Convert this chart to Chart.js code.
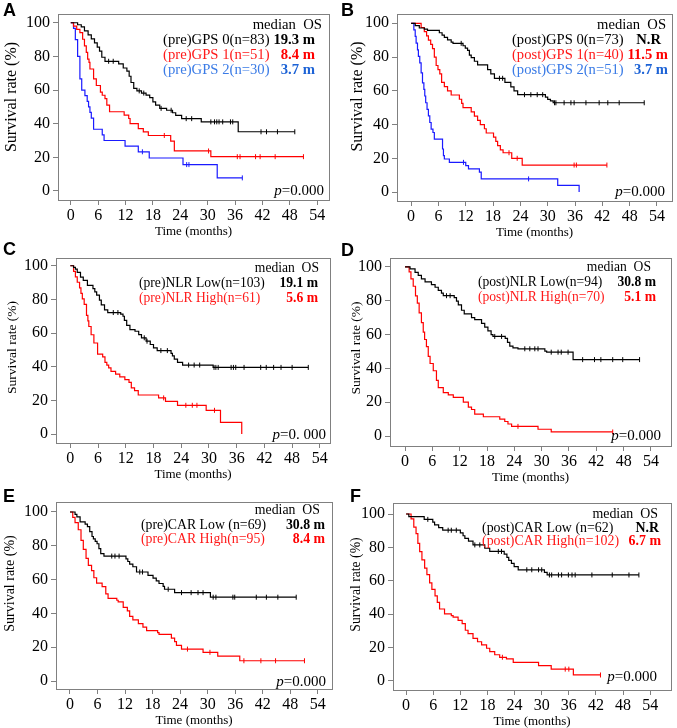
<!DOCTYPE html>
<html>
<head>
<meta charset="utf-8">
<script src="https://cdn.jsdelivr.net/npm/chart.js@4.4.0/dist/chart.umd.min.js"></script>
<style>
  html, body { margin: 0; padding: 0; background: #fff; }
  #fig { position: relative; width: 677px; height: 728px; overflow: hidden; }
  #fig canvas { position: absolute; }
</style>
</head>
<body>
<div id="fig"></div>
<script>
// ===== Axis ticks =====
const xTicks = [0, 6, 12, 18, 24, 30, 36, 42, 48, 54];
const yTicks = [0, 20, 40, 60, 80, 100];

// ===== KM curves: [month, survival %] after each event =====
// A - pre-treatment GPS
const preGps0 = [[0,100],[1.5,98.8],[2.3,97.6],[3.0,95.2],[3.8,92.8],[4.5,90.4],[5.2,88.0],[5.8,85.5],[6.3,83.1],[6.8,79.5],[7.5,77.1],[10.5,75.6],[11.5,73.1],[12.3,71.3],[12.8,68.2],[13.2,64.5],[13.8,61.0],[14.5,59.5],[15.5,58.2],[16.5,57.0],[17.3,55.5],[18.0,53.0],[18.6,51.0],[19.5,49.1],[21.0,48.0],[22.3,46.5],[23.0,44.9],[24.3,43.0],[28.6,41.1],[36.7,35.2],[49.1,35.2]];
const preGps0Cens = [8.3,9.3,15.0,16.0,19.8,22.0,25.3,26.5,30.7,31.5,32.0,32.5,33.3,35.0,35.5,41.7,42.9,45.3,49.1];
const preGps1 = [[0,100],[0.6,98.0],[1.3,96.1],[2.0,94.1],[2.6,90.2],[3.0,86.3],[3.4,82.4],[3.7,78.4],[4.0,76.5],[4.2,72.5],[5.0,66.7],[5.6,62.7],[6.5,58.8],[6.9,56.9],[7.5,54.9],[7.9,51.0],[8.5,47.1],[11.7,45.1],[12.7,43.1],[13.0,40.1],[14.8,37.1],[15.9,35.1],[17.0,33.0],[21.9,29.7],[22.7,23.8],[30.7,20.4],[51.0,20.4]];
const preGps1Cens = [20.5,30.2,36.5,37.1,40.5,41.5,44.8,51.0];
const preGps2 = [[0,100],[0.6,96.7],[1.0,90.0],[1.5,80.0],[2.0,66.7],[2.4,60.0],[3.1,56.7],[3.6,53.3],[3.9,50.0],[4.2,46.7],[4.5,43.3],[5.0,36.7],[6.9,33.3],[7.3,30.0],[11.9,26.7],[14.8,23.3],[17.2,19.6],[24.6,15.7],[32.1,7.8],[37.6,7.8]];
const preGps2Cens = [15.7,25.4,25.9,37.6];

// B - post-treatment GPS
const postGps0 = [[0,100],[0.9,98.6],[1.8,97.2],[2.9,96.5],[3.6,95.8],[6.2,94.4],[6.8,93.0],[7.3,91.6],[8.0,90.2],[8.8,88.8],[9.2,88.1],[11.4,86.7],[11.9,85.3],[12.4,83.9],[12.8,81.1],[13.2,79.6],[13.9,77.5],[14.6,75.4],[16.8,72.6],[17.5,70.0],[18.3,67.4],[20.6,65.0],[21.9,62.3],[22.6,60.0],[23.4,57.7],[29.5,56.3],[30.0,54.9],[30.6,54.0],[31.2,52.9],[51.2,52.9]];
const postGps0Cens = [11.0,19.4,20.1,24.9,26.3,27.7,28.9,31.5,31.8,33.6,35.1,35.8,38.4,41.3,43.2,45.7,51.2];
const postGps1 = [[0,100],[2.2,97.5],[2.9,95.0],[3.4,92.5],[3.8,90.0],[4.3,87.5],[4.7,85.0],[5.1,80.0],[5.5,75.0],[5.9,72.5],[6.3,70.0],[6.7,65.0],[7.3,62.5],[8.0,60.0],[8.8,57.5],[10.6,55.0],[11.1,52.5],[11.4,50.0],[13.2,47.5],[13.9,45.0],[14.6,42.5],[15.2,40.0],[16.1,37.5],[16.5,35.0],[18.1,32.5],[18.6,30.0],[19.0,27.5],[19.6,25.0],[20.2,23.3],[22.1,20.0],[24.4,16.0],[43.0,16.0]];
const postGps1Cens = [21.5,23.3,35.8,36.3,43.0];
const postGps2 = [[0,100],[0.6,96.1],[0.9,92.2],[1.1,88.2],[1.4,84.3],[1.6,80.4],[1.9,76.5],[2.2,70.6],[2.5,64.7],[2.8,60.8],[3.0,56.9],[3.2,52.9],[3.5,49.0],[3.8,45.1],[4.1,41.2],[4.4,37.3],[4.8,35.3],[5.1,31.4],[6.9,25.5],[7.1,21.6],[7.3,19.6],[8.4,17.6],[12.0,15.7],[12.6,13.7],[15.0,11.8],[15.4,7.8],[32.2,3.9],[36.9,0]];
const postGps2Cens = [11.5,25.8];

// C - pre-treatment NLR
const preNlrLow = [[0,100],[0.7,99.0],[1.1,98.0],[1.5,96.1],[2.2,93.2],[2.8,91.3],[3.7,88.3],[4.9,86.4],[5.3,84.5],[5.7,82.5],[6.3,79.6],[6.7,76.7],[7.4,73.8],[8.1,72.2],[10.9,71.2],[11.4,70.0],[11.7,67.5],[12.2,64.6],[12.9,62.1],[14.0,61.1],[14.8,59.1],[15.4,57.2],[16.4,55.2],[17.3,53.2],[18.0,51.2],[18.8,49.6],[21.8,48.0],[22.1,46.5],[22.5,44.5],[23.2,42.6],[24.3,41.0],[30.9,39.6],[51.5,39.6]];
const preNlrLowCens = [9.3,10.3,16.0,16.6,19.6,21.0,25.6,26.8,28.0,31.1,31.5,32.0,34.8,35.3,35.8,37.6,41.2,42.4,44.0,45.6,48.0,51.5];
const preNlrHigh = [[0,100],[0.7,96.7],[1.1,93.4],[1.5,90.2],[2.0,86.9],[2.3,83.6],[2.6,80.3],[3.0,77.0],[3.5,70.5],[3.8,67.2],[4.0,63.9],[4.5,59.0],[5.1,54.1],[5.9,47.5],[7.0,45.9],[7.5,42.6],[7.9,41.0],[8.3,39.3],[8.8,37.3],[9.8,35.6],[10.7,34.0],[11.8,32.3],[12.7,30.7],[13.2,27.5],[13.9,25.8],[14.7,23.2],[19.1,21.5],[20.6,19.4],[23.2,17.1],[29.4,14.1],[32.5,7.0],[37.1,0]];
const preNlrHighCens = [20.2,25.0,26.4,27.4,31.2];

// D - post-treatment NLR
const postNlrLow = [[0,100],[1.1,98.9],[2.2,96.8],[2.9,95.0],[3.6,93.0],[4.4,91.2],[5.8,89.6],[6.6,88.0],[7.3,86.2],[8.0,84.5],[8.4,83.0],[10.8,81.9],[11.3,79.8],[11.7,77.6],[12.4,74.4],[13.0,72.2],[14.6,70.0],[15.3,68.9],[16.8,66.6],[17.5,64.4],[18.2,62.2],[18.9,60.0],[19.3,58.9],[22.0,57.7],[22.5,55.4],[23.0,53.2],[23.7,52.1],[24.8,51.6],[30.7,50.2],[31.1,49.6],[36.9,45.2],[51.5,45.2]];
const postNlrLowCens = [9.1,9.9,19.7,21.2,26.3,27.4,28.5,29.2,32.1,33.6,34.3,35.8,39.0,41.6,43.0,45.6,47.8,51.5];
const postNlrHigh = [[0,100],[0.9,97.1],[1.3,92.9],[1.8,88.6],[2.3,82.9],[2.7,78.6],[3.1,72.9],[3.6,67.1],[4.0,61.4],[4.3,57.1],[4.7,52.9],[5.1,47.1],[5.5,42.9],[6.2,38.6],[6.9,32.9],[7.3,28.6],[8.4,25.7],[9.5,24.3],[10.6,22.9],[12.8,20.0],[13.9,17.1],[14.6,15.7],[15.3,12.9],[17.2,11.4],[20.8,10.0],[21.9,8.6],[22.6,7.1],[23.4,5.7],[29.2,4.0],[32.1,2.4],[45.6,2.4]];
const postNlrHighCens = [24.8,45.6];

// E - pre-treatment CAR
const preCarLow = [[0,100],[1.1,98.6],[1.5,97.1],[2.2,94.2],[3.3,92.8],[3.8,91.3],[4.3,88.4],[4.8,85.5],[5.1,84.1],[5.5,82.6],[5.9,81.2],[6.3,78.3],[6.7,75.4],[7.4,73.9],[12.2,72.3],[12.6,70.7],[13.0,69.2],[13.7,67.6],[14.5,64.5],[17.0,62.5],[18.1,60.9],[18.8,59.3],[19.4,57.7],[20.3,56.0],[20.6,54.3],[22.8,52.3],[30.6,49.6],[49.3,49.6]];
const preCarLowCens = [9.1,9.8,10.7,15.2,15.8,21.4,24.3,26.4,27.9,29.0,31.2,31.8,35.5,35.9,40.6,42.8,45.3,49.3];
const preCarHigh = [[0,100],[0.6,96.8],[1.1,93.7],[1.8,89.5],[2.4,83.2],[2.9,77.9],[3.5,72.6],[4.0,68.4],[4.7,65.3],[5.2,61.1],[5.8,57.9],[7.0,55.8],[7.8,51.6],[8.3,48.9],[10.2,47.8],[10.5,46.8],[11.6,43.6],[12.5,41.5],[13.0,38.3],[13.7,36.2],[14.9,34.0],[15.9,31.9],[16.7,29.8],[19.1,28.7],[19.4,27.6],[22.1,25.4],[22.8,23.3],[23.2,21.1],[24.3,18.9],[29.0,17.0],[32.2,14.8],[37.0,12.0],[51.1,12.0]];
const preCarHighCens = [25.6,30.5,37.9,41.6,44.8,51.1];

// F - post-treatment CAR
const postCarLow = [[0,100],[0.6,98.4],[4.0,96.8],[5.9,95.2],[6.3,93.5],[7.2,91.9],[8.1,90.3],[12.0,88.7],[12.6,87.0],[13.0,85.4],[13.8,83.8],[14.8,81.5],[17.4,79.5],[18.5,77.6],[21.7,76.0],[22.3,74.0],[22.7,72.2],[23.3,70.4],[23.9,68.5],[24.8,66.6],[30.6,65.0],[31.2,63.5],[51.5,63.5]];
const postCarLowCens = [4.8,9.3,10.0,11.1,15.2,16.3,20.4,21.1,26.7,27.8,29.3,30.0,31.7,32.2,33.7,34.4,35.9,36.7,37.4,41.1,45.6,49.3,51.5];
const postCarHigh = [[0,100],[1.1,97.1],[1.7,92.2],[2.2,88.2],[2.6,82.4],[3.0,77.5],[3.5,72.5],[4.1,67.6],[4.6,63.7],[5.2,58.8],[5.7,54.9],[6.4,51.0],[6.9,47.1],[7.4,43.1],[8.5,40.2],[10.0,39.2],[10.4,38.2],[11.5,36.3],[12.4,34.3],[13.1,30.4],[13.7,28.4],[14.8,25.5],[15.8,23.5],[16.7,21.6],[17.8,19.6],[18.5,17.6],[19.6,15.7],[20.7,14.2],[22.2,13.2],[23.7,11.2],[29.3,9.2],[32.1,7.1],[37.0,3.6],[43.0,3.6]];
const postCarHighCens = [21.3,35.2,36.0,43.0];

// ===== Legend texts =====
const labelsA = ['(pre)GPS 0(n=83)', '(pre)GPS 1(n=51)', '(pre)GPS 2(n=30)'];
const mediansA = ['19.3 m', '8.4 m', '3.7 m'];
const labelsB = ['(post)GPS 0(n=73)', '(post)GPS 1(n=40)', '(post)GPS 2(n=51)'];
const mediansB = ['N.R', '11.5 m', '3.7 m'];
const labelsC = ['(pre)NLR Low(n=103)', '(pre)NLR High(n=61)'];
const mediansC = ['19.1 m', '5.6 m'];
const labelsD = ['(post)NLR Low(n=94)', '(post)NLR High(n=70)'];
const mediansD = ['30.8 m', '5.1 m'];
const labelsE = ['(pre)CAR Low (n=69)', '(pre)CAR High(n=95)'];
const mediansE = ['30.8 m', '8.4 m'];
const labelsF = ['(post)CAR Low (n=62)', '(post)CAR High(n=102)'];
const mediansF = ['N.R', '6.7 m'];
const pValues = ['0.000', '0.000', '0. 000', '0.000', '0.000', '0.000'];

// ===== Styles =====
const SERIF = '"Liberation Serif", "Times New Roman", serif';
const BLACK = '#000000';
const RED = '#ff0000';
const BLUE = '#1a1aff';
const TXT_BLACK = ['#000000', '#000000'];
const TXT_RED = ['#ff1a1a', '#ff0000'];
const TXT_BLUE = ['#3a7be6', '#1d63d6'];
const FRAME = '#808080';

Chart.defaults.font.family = SERIF;
Chart.defaults.color = '#000';

function survAt(steps, t) {
  let s = steps[0][1];
  for (const [tt, ss] of steps) {
    if (tt <= t) s = ss; else break;
  }
  return s;
}

// frame + all the free text of a panel
const kmText = {
  id: 'kmText',
  beforeDatasetsDraw(chart, args, o) {
    const { ctx, chartArea: a } = chart;
    ctx.save();
    ctx.strokeStyle = FRAME;
    ctx.lineWidth = 1;
    ctx.strokeRect(Math.round(a.left) + 0.5, Math.round(a.top) + 0.5, Math.round(a.right - a.left), Math.round(a.bottom - a.top));
    ctx.restore();
  },
  afterDraw(chart, args, o) {
    const { ctx, chartArea: a } = chart;
    ctx.save();
    ctx.fillStyle = '#000';
    ctx.textBaseline = 'alphabetic';
    ctx.textAlign = 'left';
    ctx.font = 'bold 18px "Liberation Sans", Arial, sans-serif';
    ctx.fillText(o.letter, o.letterX, o.letterY);

    // axis titles
    ctx.font = '13px ' + SERIF;
    ctx.textAlign = 'center';
    ctx.textBaseline = 'middle';
    ctx.fillText('Time (months)', (a.left + a.right) / 2, a.bottom + 32);
    ctx.save();
    ctx.font = o.yTitleSize + 'px ' + SERIF;
    ctx.translate(o.yTitleX, (a.top + a.bottom) / 2 + o.yTitleDy);
    ctx.rotate(-Math.PI / 2);
    ctx.fillText('Survival rate (%)', 0, 0);
    ctx.restore();

    // legend block
    const fs = o.fs + 'px ' + SERIF;
    const fsBold = 'bold ' + o.fs + 'px ' + SERIF;
    ctx.textBaseline = 'alphabetic';
    ctx.font = fs;
    ctx.textAlign = 'right';
    ctx.fillText('median  OS', a.right - o.medianInset, a.top + o.rows[0]);
    o.labels.forEach((lab, i) => {
      const y = a.top + o.rows[i + 1];
      ctx.font = fs;
      ctx.textAlign = 'left';
      ctx.fillStyle = o.textColors[i][0];
      ctx.fillText(lab, a.right - o.labelInset, y);
      ctx.font = fsBold;
      ctx.textAlign = 'right';
      ctx.fillStyle = o.textColors[i][1];
      ctx.fillText(o.medians[i], a.right - o.valueInset[i], y);
    });

    // p value
    ctx.fillStyle = '#000';
    ctx.textAlign = 'left';
    const rest = '=' + o.p;
    ctx.font = '15px ' + SERIF;
    const wr = ctx.measureText(rest).width;
    ctx.font = 'italic 15px ' + SERIF;
    const wp = ctx.measureText('p').width;
    const xr = a.right - o.pInset;
    const yb = a.bottom - o.pBottom;
    ctx.fillText('p', xr - wr - wp, yb);
    ctx.font = '15px ' + SERIF;
    ctx.fillText(rest, xr - wr, yb);
    ctx.restore();
  },
};

// canvas placement and plot box (box coords are inside the canvas)
const panels = [
  { letter: 'A', left: 0, top: 0, w: 338, h: 242, box: [58, 14, 329, 200], x: [-2.8, 56.6], y: [-5.35, 105.2],
    curves: [[preGps0, preGps0Cens, BLACK], [preGps1, preGps1Cens, RED], [preGps2, preGps2Cens, BLUE]],
    labels: labelsA, medians: mediansA, textColors: [TXT_BLACK, TXT_RED, TXT_BLUE], p: pValues[0], fs: 14.7,
    letterX: 3, letterY: 16, yTitleX: 12, yTitleDy: -10, yTitleSize: 16, rows: [15, 30, 45, 60], labelInset: 166, valueInset: [14, 14, 14], medianInset: 7, pInset: 5, pBottom: 5 },
  { letter: 'B', left: 338, top: 0, w: 339, h: 243, box: [59, 14, 334, 201], x: [-3.1, 57.3], y: [-5.3, 105.5],
    curves: [[postGps0, postGps0Cens, BLACK], [postGps1, postGps1Cens, RED], [postGps2, postGps2Cens, BLUE]],
    labels: labelsB, medians: mediansB, textColors: [TXT_BLACK, TXT_RED, TXT_BLUE], p: pValues[1], fs: 14.6,
    letterX: 3, letterY: 16, yTitleX: 20, yTitleDy: -11, yTitleSize: 16, rows: [15, 30, 45, 60], labelInset: 160, valueInset: [11, 4, 4], medianInset: 6, pInset: 7, pBottom: 5 },
  { letter: 'C', left: 0, top: 236, w: 338, h: 249, box: [56, 22, 330, 207], x: [-3.1, 56.2], y: [-5.3, 104.6],
    curves: [[preNlrLow, preNlrLowCens, BLACK], [preNlrHigh, preNlrHighCens, RED]],
    labels: labelsC, medians: mediansC, textColors: [TXT_BLACK, TXT_RED], p: pValues[2], fs: 13.6,
    letterX: 3, letterY: 19, yTitleX: 12, yTitleDy: -3, yTitleSize: 13.5, rows: [14, 29, 44], labelInset: 191, valueInset: [12, 12], medianInset: 11, pInset: 4, pBottom: 4 },
  { letter: 'D', left: 338, top: 236, w: 339, h: 252, box: [52, 22, 333, 210], x: [-3.3, 58.4], y: [-5.9, 105.3],
    curves: [[postNlrLow, postNlrLowCens, BLACK], [postNlrHigh, postNlrHighCens, RED]],
    labels: labelsD, medians: mediansD, textColors: [TXT_BLACK, TXT_RED], p: pValues[3], fs: 13.6,
    letterX: 3, letterY: 20, yTitleX: 18, yTitleDy: -4, yTitleSize: 13.5, rows: [13, 28, 43], labelInset: 193, valueInset: [15, 15], medianInset: 20, pInset: 10, pBottom: 6 },
  { letter: 'E', left: 0, top: 476, w: 338, h: 252, box: [56, 26, 332, 213], x: [-3.05, 57.1], y: [-4.7, 105.9],
    curves: [[preCarLow, preCarLowCens, BLACK], [preCarHigh, preCarHighCens, RED]],
    labels: labelsE, medians: mediansE, textColors: [TXT_BLACK, TXT_RED], p: pValues[4], fs: 13.8,
    letterX: 3, letterY: 26, yTitleX: 10, yTitleDy: -12, yTitleSize: 14, rows: [12, 26.5, 41], labelInset: 191, valueInset: [7, 7], medianInset: 12, pInset: 6, pBottom: 3 },
  { letter: 'F', left: 338, top: 476, w: 339, h: 252, box: [55, 27, 333, 214], x: [-2.9, 58.6], y: [-5.4, 106.6],
    curves: [[postCarLow, postCarLowCens, BLACK], [postCarHigh, postCarHighCens, RED]],
    labels: labelsF, medians: mediansF, textColors: [TXT_BLACK, TXT_RED], p: pValues[5], fs: 13.9,
    letterX: 12, letterY: 26, yTitleX: 18, yTitleDy: -12, yTitleSize: 13.7, rows: [15, 29, 42], labelInset: 189, valueInset: [12, 10], medianInset: 13, pInset: 14, pBottom: 9 },
];

function buildDatasets(curves) {
  const sets = [];
  for (const [steps, cens, color] of curves) {
    sets.push({
      data: steps.map(([x, y]) => ({ x, y })),
      showLine: true,
      stepped: true,
      borderColor: color,
      borderWidth: 1.2,
      pointRadius: 0,
      fill: false,
    });
    sets.push({
      data: cens.map(t => ({ x: t, y: survAt(steps, t) })),
      showLine: false,
      pointStyle: 'line',
      rotation: 90,
      pointRadius: 2.5,
      borderColor: color,
      borderWidth: 1,
    });
  }
  return sets;
}

function axisStyle() {
  return {
    grid: { drawOnChartArea: false, drawTicks: true, tickLength: 5, color: FRAME },
    border: { display: true, color: FRAME },
  };
}

function renderPanel(p) {
  const canvas = document.createElement('canvas');
  canvas.width = p.w;
  canvas.height = p.h;
  canvas.style.left = p.left + 'px';
  canvas.style.top = p.top + 'px';
  canvas.style.width = p.w + 'px';
  canvas.style.height = p.h + 'px';
  document.getElementById('fig').appendChild(canvas);

  const [bl, bt, br, bb] = p.box;

  new Chart(canvas, {
    type: 'scatter',
    data: { datasets: buildDatasets(p.curves) },
    options: {
      responsive: false,
      animation: false,
      devicePixelRatio: 1,
      events: [],
      layout: { padding: { top: bt, right: p.w - br, left: 0, bottom: 0 } },
      scales: {
        x: {
          type: 'linear',
          min: p.x[0],
          max: p.x[1],
          ...axisStyle(),
          afterFit: (s) => { s.height = p.h - bb; },
          afterBuildTicks: (s) => { s.ticks = xTicks.map(v => ({ value: v })); },
          ticks: { autoSkip: false, maxRotation: 0, padding: 1, color: '#000', font: { size: 16 } },
        },
        y: {
          type: 'linear',
          min: p.y[0],
          max: p.y[1],
          ...axisStyle(),
          afterFit: (s) => { s.width = bl; },
          afterBuildTicks: (s) => { s.ticks = yTicks.map(v => ({ value: v })); },
          ticks: { padding: 3, color: '#000', font: { size: 16 } },
        },
      },
      plugins: {
        legend: { display: false },
        tooltip: { enabled: false },
        kmText: p,
      },
    },
    plugins: [kmText],
  });
}

panels.forEach(renderPanel);
</script>
</body>
</html>
